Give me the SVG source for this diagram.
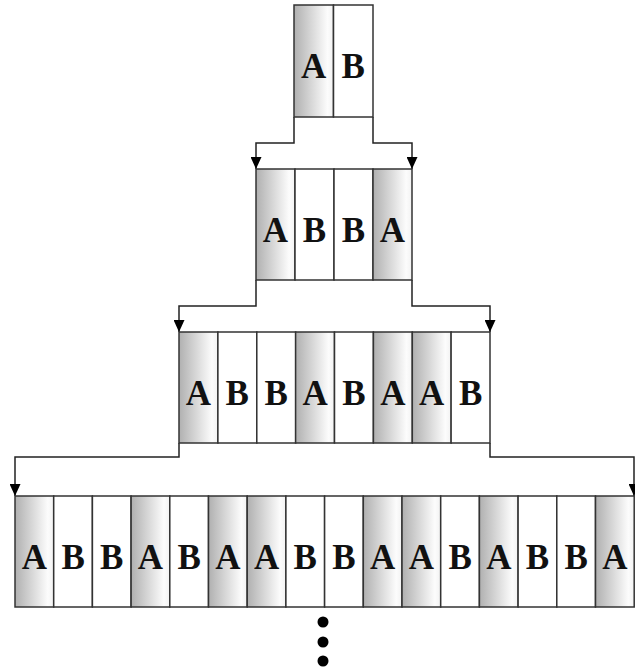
<svg xmlns="http://www.w3.org/2000/svg" width="635" height="671" viewBox="0 0 635 671">
<defs>
<linearGradient id="g" x1="0" y1="0" x2="1" y2="0">
<stop offset="0" stop-color="#b0b0b0"/>
<stop offset="0.85" stop-color="#fcfcfc"/>
<stop offset="1" stop-color="#f2f2f2"/>
</linearGradient>
<marker id="arr" markerUnits="userSpaceOnUse" markerWidth="12" markerHeight="11" refX="12" refY="5.5" orient="auto" viewBox="0 0 12 11">
<path d="M0,0 L12,5.5 L0,11 z" fill="#000"/>
</marker>
<style>
.a{fill:url(#g);stroke:#333;stroke-width:1.5}
.b{fill:#fff;stroke:#333;stroke-width:1.5}
.t{font-family:"Liberation Serif","Times New Roman",serif;font-weight:bold;font-size:35px;fill:#111;text-anchor:middle}
.c{fill:none;stroke:#222;stroke-width:1.5;marker-end:url(#arr)}
</style>
</defs>
<rect width="635" height="671" fill="#fff"/>
<g id="connectors">
<path class="c" d="M294,117 V143 H256 V169"/>
<path class="c" d="M373,117 V143 H412 V169"/>
<path class="c" d="M256,280 V306 H179 V332"/>
<path class="c" d="M412,280 V306 H490 V332"/>
<path class="c" d="M179,443 V457 H15 V496"/>
<path class="c" d="M490,443 V457 H634 V496"/>
</g>
<g id="level1">
<g id="l1c1"><rect class="a" x="294" y="5" width="39.5" height="112"/><text class="t" x="313.7" y="78">A</text></g>
<g id="l1c2"><rect class="b" x="333.5" y="5" width="39.5" height="112"/><text class="t" x="353.2" y="78">B</text></g>
</g>
<g id="level2">
<g id="l2c1"><rect class="a" x="256" y="169" width="39" height="111"/><text class="t" x="275.5" y="242">A</text></g>
<g id="l2c2"><rect class="b" x="295" y="169" width="39" height="111"/><text class="t" x="314.5" y="242">B</text></g>
<g id="l2c3"><rect class="b" x="334" y="169" width="39" height="111"/><text class="t" x="353.5" y="242">B</text></g>
<g id="l2c4"><rect class="a" x="373" y="169" width="39" height="111"/><text class="t" x="392.5" y="242">A</text></g>
</g>
<g id="level3">
<g id="l3c1"><rect class="a" x="179" y="332" width="38.9" height="111"/><text class="t" x="198.4" y="405">A</text></g>
<g id="l3c2"><rect class="b" x="217.9" y="332" width="38.9" height="111"/><text class="t" x="237.3" y="405">B</text></g>
<g id="l3c3"><rect class="b" x="256.8" y="332" width="38.9" height="111"/><text class="t" x="276.2" y="405">B</text></g>
<g id="l3c4"><rect class="a" x="295.6" y="332" width="38.9" height="111"/><text class="t" x="315.1" y="405">A</text></g>
<g id="l3c5"><rect class="b" x="334.5" y="332" width="38.9" height="111"/><text class="t" x="353.9" y="405">B</text></g>
<g id="l3c6"><rect class="a" x="373.4" y="332" width="38.9" height="111"/><text class="t" x="392.8" y="405">A</text></g>
<g id="l3c7"><rect class="a" x="412.3" y="332" width="38.9" height="111"/><text class="t" x="431.7" y="405">A</text></g>
<g id="l3c8"><rect class="b" x="451.1" y="332" width="38.9" height="111"/><text class="t" x="470.6" y="405">B</text></g>
</g>
<g id="level4">
<g id="l4c1"><rect class="a" x="15" y="496" width="38.7" height="111"/><text class="t" x="34.4" y="569">A</text></g>
<g id="l4c2"><rect class="b" x="53.7" y="496" width="38.7" height="111"/><text class="t" x="73.1" y="569">B</text></g>
<g id="l4c3"><rect class="b" x="92.4" y="496" width="38.7" height="111"/><text class="t" x="111.8" y="569">B</text></g>
<g id="l4c4"><rect class="a" x="131.1" y="496" width="38.7" height="111"/><text class="t" x="150.5" y="569">A</text></g>
<g id="l4c5"><rect class="b" x="169.8" y="496" width="38.7" height="111"/><text class="t" x="189.2" y="569">B</text></g>
<g id="l4c6"><rect class="a" x="208.5" y="496" width="38.7" height="111"/><text class="t" x="227.9" y="569">A</text></g>
<g id="l4c7"><rect class="a" x="247.2" y="496" width="38.7" height="111"/><text class="t" x="266.6" y="569">A</text></g>
<g id="l4c8"><rect class="b" x="285.9" y="496" width="38.7" height="111"/><text class="t" x="305.3" y="569">B</text></g>
<g id="l4c9"><rect class="b" x="324.6" y="496" width="38.7" height="111"/><text class="t" x="344" y="569">B</text></g>
<g id="l4c10"><rect class="a" x="363.3" y="496" width="38.7" height="111"/><text class="t" x="382.7" y="569">A</text></g>
<g id="l4c11"><rect class="a" x="402" y="496" width="38.7" height="111"/><text class="t" x="421.4" y="569">A</text></g>
<g id="l4c12"><rect class="b" x="440.7" y="496" width="38.7" height="111"/><text class="t" x="460.1" y="569">B</text></g>
<g id="l4c13"><rect class="a" x="479.4" y="496" width="38.7" height="111"/><text class="t" x="498.8" y="569">A</text></g>
<g id="l4c14"><rect class="b" x="518.1" y="496" width="38.7" height="111"/><text class="t" x="537.5" y="569">B</text></g>
<g id="l4c15"><rect class="b" x="556.8" y="496" width="38.7" height="111"/><text class="t" x="576.2" y="569">B</text></g>
<g id="l4c16"><rect class="a" x="595.5" y="496" width="38.7" height="111"/><text class="t" x="614.9" y="569">A</text></g>
</g>
<g id="dots" fill="#000">
<circle cx="323" cy="622" r="5.5"/>
<circle cx="323" cy="642" r="5.5"/>
<circle cx="323" cy="661" r="5.5"/>
</g>
</svg>
